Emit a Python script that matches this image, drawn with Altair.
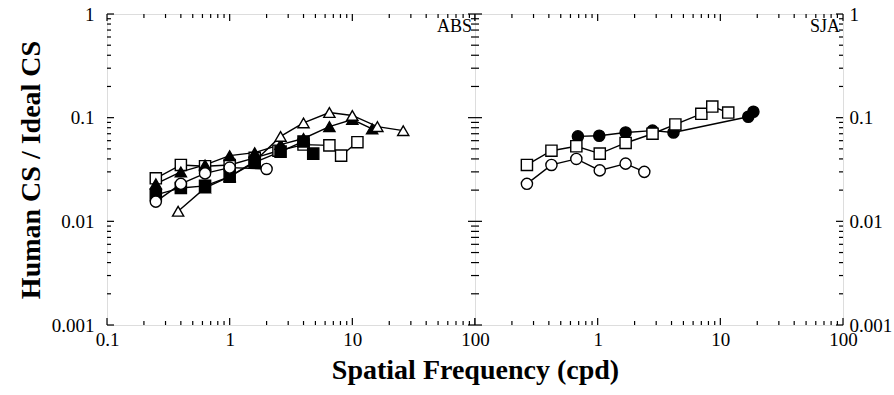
import altair as alt
import pandas as pd

FONT = "Liberation Serif"

# ---------------- data ----------------
# Panel ABS
abs_osq_x = [0.25, 0.4, 0.63, 1.0, 1.6, 2.5, 4.0, 6.5, 8.1, 11.0]
abs_osq_y = [0.026, 0.035, 0.034, 0.035, 0.041, 0.048, 0.055, 0.054, 0.043, 0.058]

abs_ftri_x = [0.25, 0.4, 0.63, 1.0, 1.6, 2.6, 4.0, 6.5, 10.0, 14.5]
abs_ftri_y = [0.023, 0.030, 0.035, 0.043, 0.046, 0.055, 0.063, 0.082, 0.096, 0.078]

abs_otri_x = [0.38, 0.63, 1.0, 1.6, 2.6, 4.0, 6.5, 10.0, 16.0, 26.0]
abs_otri_y = [0.0125, 0.021, 0.027, 0.038, 0.066, 0.089, 0.112, 0.105, 0.082, 0.075]

abs_fsq_x = [0.25, 0.4, 0.63, 1.0, 1.6, 2.6, 4.0, 4.8]
abs_fsq_y = [0.018, 0.021, 0.022, 0.027, 0.037, 0.047, 0.059, 0.045]

abs_ocir_x = [0.25, 0.4, 0.63, 1.0, 2.0]
abs_ocir_y = [0.0155, 0.023, 0.029, 0.033, 0.032]

# Panel SJA
sja_fcir_x = [0.69, 1.03, 1.69, 2.8, 4.15, 16.9, 18.6]
sja_fcir_y = [0.066, 0.067, 0.072, 0.075, 0.072, 0.102, 0.114]

sja_osq_x = [0.265, 0.42, 0.67, 1.04, 1.69, 2.8, 4.3, 7.0, 8.6, 11.6]
sja_osq_y = [0.035, 0.048, 0.053, 0.045, 0.057, 0.070, 0.086, 0.109, 0.128, 0.112]

sja_ocir_x = [0.265, 0.42, 0.67, 1.04, 1.69, 2.4]
sja_ocir_y = [0.023, 0.035, 0.040, 0.031, 0.036, 0.030]

# axis tick labels
x_labels_left = [0.1, 1, 10, 100]
x_labels_right = [1, 10, 100]
y_labels = [0.001, 0.01, 0.1, 1]
major_x = [0.1, 1, 10, 100]
major_y = [0.001, 0.01, 0.1, 1]
minor_x = [0.2, 0.3, 0.4, 0.5, 0.6, 0.7, 0.8, 0.9,
           2, 3, 4, 5, 6, 7, 8, 9,
           20, 30, 40, 50, 60, 70, 80, 90]
minor_y = [0.002, 0.003, 0.004, 0.005, 0.006, 0.007, 0.008, 0.009,
           0.02, 0.03, 0.04, 0.05, 0.06, 0.07, 0.08, 0.09,
           0.2, 0.3, 0.4, 0.5, 0.6, 0.7, 0.8, 0.9]

series_keys = ["open square", "filled square", "open triangle",
               "filled triangle", "open circle", "filled circle"]
shape_range = ["square", "square", "triangle-up", "triangle-up", "circle", "circle"]
fill_range = ["white", "black", "white", "black", "white", "black"]

W, H = 368, 311


def make_df(items):
    rows = []
    for name, xs, ys in items:
        for a, b in zip(xs, ys):
            rows.append({"series": name, "x": a, "y": b})
    return pd.DataFrame(rows)


abs_df = make_df([
    ("open square", abs_osq_x, abs_osq_y),
    ("filled triangle", abs_ftri_x, abs_ftri_y),
    ("open triangle", abs_otri_x, abs_otri_y),
    ("filled square", abs_fsq_x, abs_fsq_y),
    ("open circle", abs_ocir_x, abs_ocir_y),
])
sja_df = make_df([
    ("filled circle", sja_fcir_x, sja_fcir_y),
    ("open square", sja_osq_x, sja_osq_y),
    ("open circle", sja_ocir_x, sja_ocir_y),
])

xscale = alt.Scale(type="log", domain=[0.1, 100], nice=False)
yscale = alt.Scale(type="log", domain=[0.001, 1], nice=False)

label_style = dict(labelFont=FONT, labelFontSize=19, labelColor="black",
                   domain=False, ticks=False, tickSize=0, grid=False,
                   format="~g", labelFlush=False, labelOverlap=False)


def panel(df, label, left):
    if left:
        xaxis = alt.Axis(values=x_labels_left, title="Spatial Frequency (cpd)",
                         titleFont=FONT, titleFontSize=28, titleFontWeight="bold",
                         titleColor="black", titleX=W, titlePadding=7,
                         labelPadding=5, **label_style)
        yaxis = alt.Axis(values=y_labels, title="Human CS / Ideal CS", orient="left",
                         titleFont=FONT, titleFontSize=28, titleFontWeight="bold",
                         titleColor="black", titlePadding=6,
                         labelPadding=13, **label_style)
    else:
        xaxis = alt.Axis(values=x_labels_right, title=None, labelPadding=5, **label_style)
        yaxis = alt.Axis(values=y_labels, title=None, orient="right",
                         labelPadding=6, **label_style)

    def X(f):
        return alt.X(f + ":Q", scale=xscale, axis=xaxis)

    def Y(f):
        return alt.Y(f + ":Q", scale=yscale, axis=yaxis)

    layers = []
    # inward ticks on all four sides
    for vals, L in [(major_x, 7), (minor_x, 4)]:
        d = pd.DataFrame({"tx": vals})
        base = alt.Chart(d).mark_rule(color="black", strokeWidth=1.2)
        layers.append(base.encode(x=X("tx"), y=alt.value(H), y2=alt.value(H - L)))
        layers.append(base.encode(x=X("tx"), y=alt.value(0), y2=alt.value(L)))
    for vals, L in [(major_y, 7), (minor_y, 4)]:
        d = pd.DataFrame({"ty": vals})
        base = alt.Chart(d).mark_rule(color="black", strokeWidth=1.2)
        layers.append(base.encode(y=Y("ty"), x=alt.value(0), x2=alt.value(L)))
        layers.append(base.encode(y=Y("ty"), x=alt.value(W), x2=alt.value(W - L)))

    lines = alt.Chart(df).mark_line(color="black", strokeWidth=1.4).encode(
        x=X("x"), y=Y("y"), detail="series:N")
    pts = alt.Chart(df).mark_point(filled=False, stroke="black", strokeWidth=1.4,
                                   opacity=1).encode(
        x=X("x"), y=Y("y"),
        shape=alt.Shape("series:N", scale=alt.Scale(domain=series_keys, range=shape_range),
                        legend=None),
        fill=alt.Fill("series:N", scale=alt.Scale(domain=series_keys, range=fill_range),
                      legend=None),
        size=alt.Size("series:N", scale=alt.Scale(domain=series_keys,
                                                  range=[125, 125, 110, 110, 100, 100]),
                      legend=None),
    )
    txt = alt.Chart(pd.DataFrame({"label": [label]})).mark_text(
        font=FONT, fontSize=18, align="right", baseline="top", color="black").encode(
        text="label:N", x=alt.value(W - 3), y=alt.value(4))
    return alt.layer(*layers, lines, pts, txt).properties(width=W, height=H)


left = panel(abs_df, "ABS", True)
right = panel(sja_df, "SJA", False)

chart = alt.hconcat(left, right, spacing=0, bounds="flush").properties(
    padding={"left": 16, "top": 4, "right": 0, "bottom": 0},
    background="white",
).configure_view(stroke="black", strokeWidth=1.5).configure(font=FONT)

chart.save("out.html", embed_options={"renderer": "svg", "actions": False})
